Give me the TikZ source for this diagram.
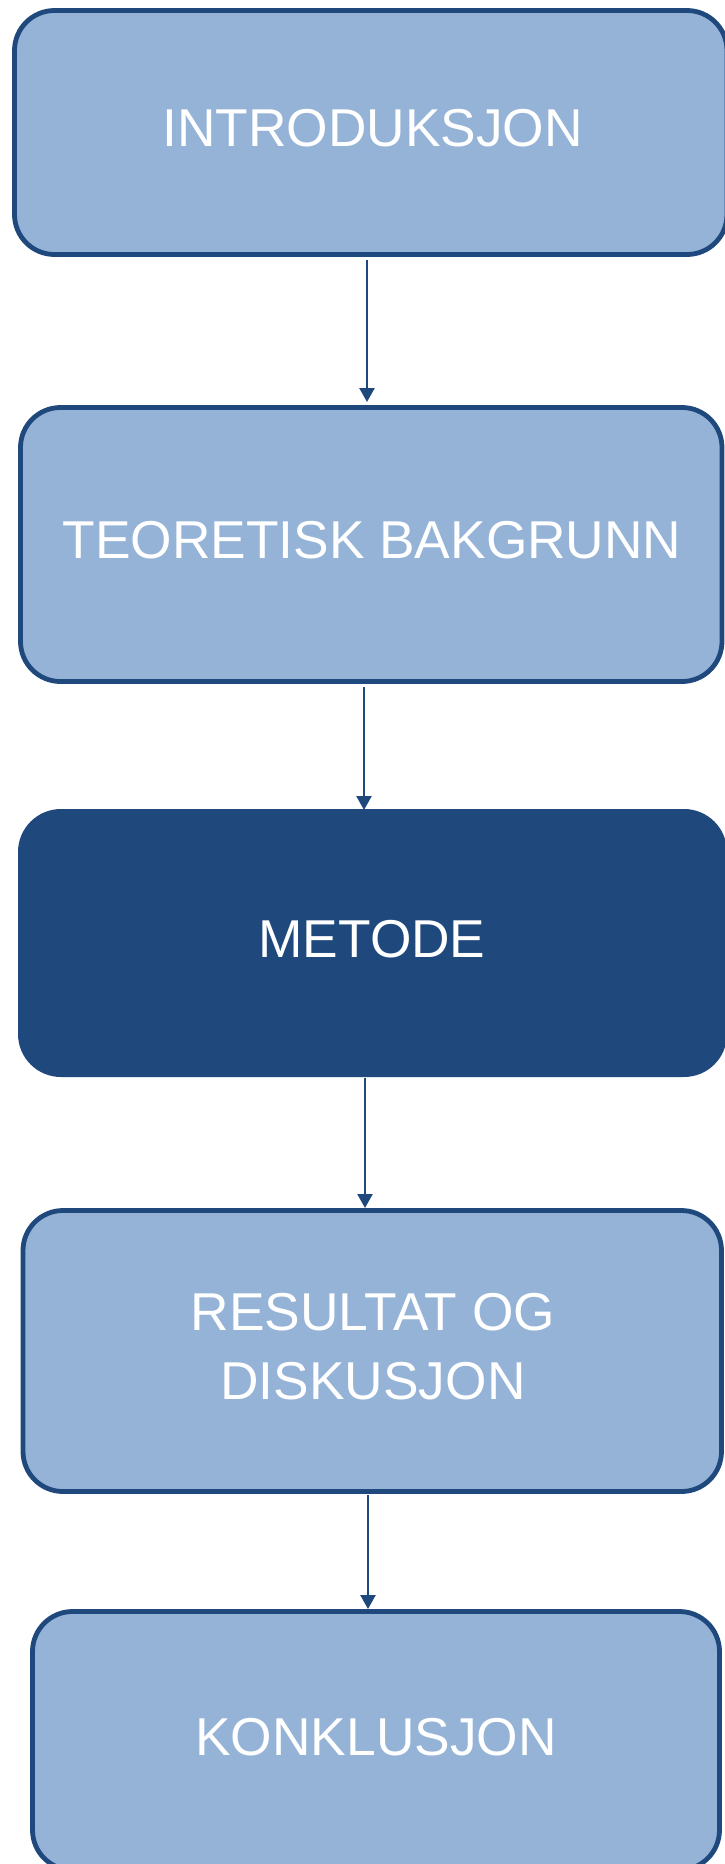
\documentclass[tikz,border=0pt]{standalone}
\usepackage{fontspec}
\setmainfont{Liberation Sans}
\usetikzlibrary{arrows.meta}
\definecolor{boxfill}{HTML}{95B3D7}
\definecolor{boxline}{HTML}{1F497D}
\begin{document}
\begin{tikzpicture}[x=1pt,y=-1pt,
  box/.style={draw=boxline, line width=4.8pt, fill=boxfill, rounded corners=40pt, outer sep=0pt, inner sep=0pt},
  darkbox/.style={fill=boxline, rounded corners=43pt, outer sep=0pt, inner sep=0pt},
  lbl/.style={text=white, font=\fontsize{53.3}{69}\selectfont, inner sep=0pt, align=center},
  conn/.style={draw=boxline, line width=2.5pt, -{Triangle[width=15pt,length=14pt]}}]
\useasboundingbox (0,0) rectangle (725,1864);
% boxes
\node[box, minimum width=712.5pt, minimum height=244pt] (b1) at (370.75,132.5) {};
\node[box, minimum width=701.5pt, minimum height=274pt] (b2) at (371.25,544.5) {};
\node[darkbox, minimum width=709pt, minimum height=268pt] (b3) at (372.5,943) {};
\node[box, minimum width=698.5pt, minimum height=281pt] (b4) at (372.25,1351) {};
\node[box, minimum width=687pt, minimum height=258.5pt] (b5) at (376,1740.75) {};
% labels
\node[lbl] (t1) at (372.5,128) {INTRODUKSJON};
\node[lbl] (t2) at (372,540) {TEORETISK BAKGRUNN};
\node[lbl] (t3) at (372,939) {METODE};
\node[lbl] (t4) at (373,1346.5) {RESULTAT OG\\DISKUSJON};
\node[lbl] (t5) at (376,1737.5) {KONKLUSJON};
% connectors
\draw[conn, shorten <=5.5pt, shorten >=5.5pt] ([xshift=-3.75pt]b1.south) -- ([xshift=-4.25pt]b2.north);
\draw[conn, shorten <=5.5pt, shorten >=-1pt] ([xshift=-7.25pt]b2.south) -- ([xshift=-8.5pt]b3.north);
\draw[conn, shorten <=1pt, shorten >=2.5pt] ([xshift=-7.5pt]b3.south) -- ([xshift=-7.25pt]b4.north);
\draw[conn, shorten <=3.5pt, shorten >=2.5pt] ([xshift=-4.25pt]b4.south) -- ([xshift=-8pt]b5.north);
\end{tikzpicture}
\end{document}
